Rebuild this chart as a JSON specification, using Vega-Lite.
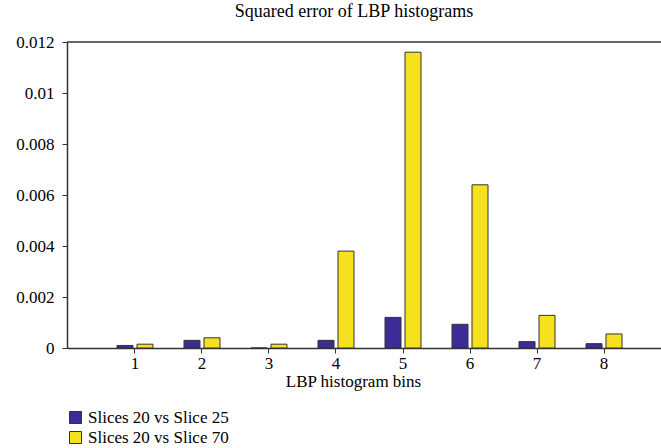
{
  "$schema": "https://vega.github.io/schema/vega-lite/v6.json",
  "width": 594,
  "height": 306,
  "autosize": "none",
  "padding": {"left": 67, "top": 42, "right": 0, "bottom": 100},
  "background": "white",
  "title": {"text": "Squared error of LBP histograms", "font": "Liberation Serif", "fontSize": 18, "fontWeight": "normal", "color": "black", "offset": 12, "dx": -10},
  "config": {"view": {"stroke": null}, "font": "Liberation Serif"},
  "data": {"values": [
    {"bin": 1, "series": "Slices 20 vs Slice 25", "value": 0.0001},
    {"bin": 2, "series": "Slices 20 vs Slice 25", "value": 0.0003},
    {"bin": 3, "series": "Slices 20 vs Slice 25", "value": 0},
    {"bin": 4, "series": "Slices 20 vs Slice 25", "value": 0.0003},
    {"bin": 5, "series": "Slices 20 vs Slice 25", "value": 0.0012},
    {"bin": 6, "series": "Slices 20 vs Slice 25", "value": 0.00093},
    {"bin": 7, "series": "Slices 20 vs Slice 25", "value": 0.00025},
    {"bin": 8, "series": "Slices 20 vs Slice 25", "value": 0.00017},
    {"bin": 1, "series": "Slices 20 vs Slice 70", "value": 0.00015},
    {"bin": 2, "series": "Slices 20 vs Slice 70", "value": 0.0004},
    {"bin": 3, "series": "Slices 20 vs Slice 70", "value": 0.00015},
    {"bin": 4, "series": "Slices 20 vs Slice 70", "value": 0.0038},
    {"bin": 5, "series": "Slices 20 vs Slice 70", "value": 0.0116},
    {"bin": 6, "series": "Slices 20 vs Slice 70", "value": 0.0064},
    {"bin": 7, "series": "Slices 20 vs Slice 70", "value": 0.00128},
    {"bin": 8, "series": "Slices 20 vs Slice 70", "value": 0.00055}
  ]},
  "layer": [
    {
      "mark": {"type": "bar", "stroke": "#333333", "strokeWidth": 1},
      "encoding": {
        "x": {
          "field": "bin", "type": "ordinal",
          "scale": {"paddingInner": 0.4627, "paddingOuter": 0.664, "align": 0.5618},
          "axis": {"title": "LBP histogram bins", "titleFont": "Liberation Serif", "titleFontSize": 17, "titleFontWeight": "normal", "titleColor": "black", "titlePadding": 2, "titleX": 286, "labelFont": "Liberation Serif", "labelFontSize": 17, "labelColor": "black", "labelAngle": 0, "labelPadding": 2, "tickSize": 5, "tickColor": "#333333", "domainColor": "#333333", "domainWidth": 1.5, "grid": false}
        },
        "xOffset": {"field": "series", "scale": {"paddingInner": 0.2, "paddingOuter": 0}},
        "y": {
          "field": "value", "type": "quantitative",
          "scale": {"domain": [0, 0.012], "nice": false},
          "axis": {"title": null, "values": [0, 0.002, 0.004, 0.006, 0.008, 0.01, 0.012], "labelExpr": "format(datum.value, '~g')", "labelFont": "Liberation Serif", "labelFontSize": 17, "labelColor": "black", "labelPadding": 8, "tickSize": 5, "tickColor": "#333333", "domainColor": "#333333", "domainWidth": 1.5, "grid": false}
        },
        "color": {
          "field": "series", "type": "nominal",
          "scale": {"domain": ["Slices 20 vs Slice 25", "Slices 20 vs Slice 70"], "range": ["#3d2b97", "#f5e11e"]},
          "legend": {"title": null, "orient": "none", "legendX": 0, "legendY": 367, "padding": 0, "symbolType": "square", "symbolSize": 144, "symbolStrokeColor": "#333333", "symbolStrokeWidth": 1, "labelFont": "Liberation Serif", "labelFontSize": 17, "labelColor": "black", "labelOffset": 4, "rowPadding": 2}
        }
      }
    },
    {
      "data": {"values": [{"ref": "top"}]},
      "mark": {"type": "rule", "color": "#333333", "strokeWidth": 1.5},
      "encoding": {"y": {"datum": 0.012, "type": "quantitative"}}
    }
  ]
}
